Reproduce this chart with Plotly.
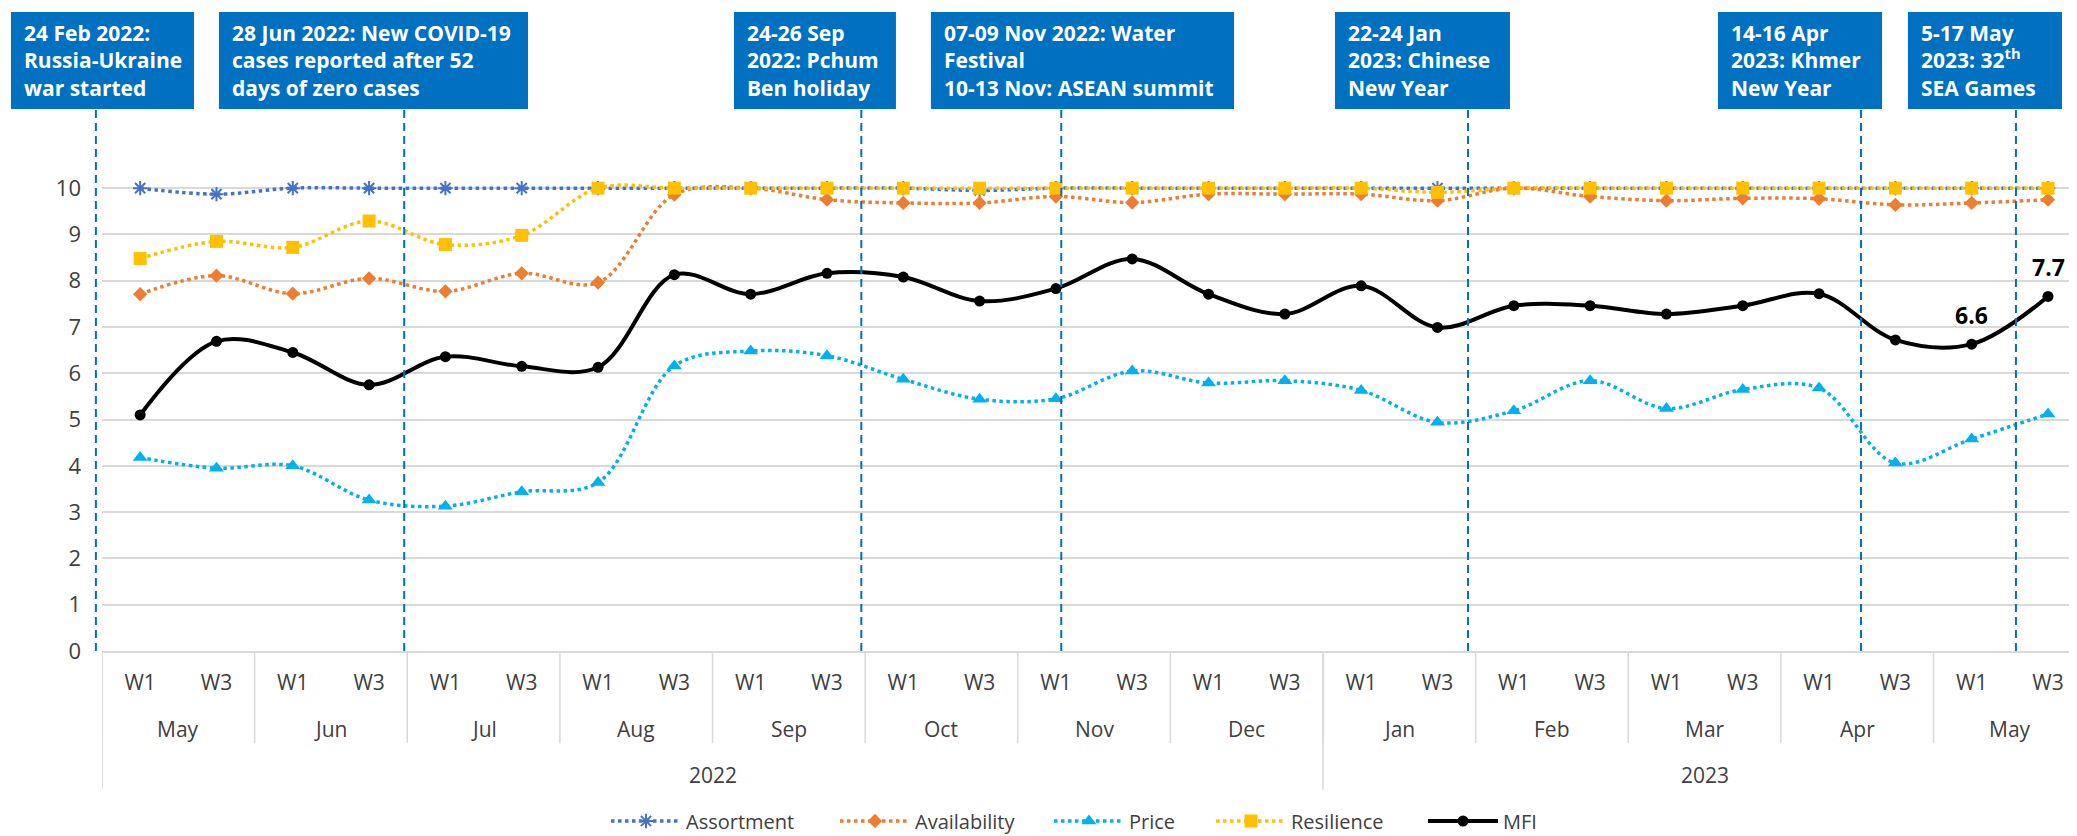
import plotly.graph_objects as go

# ---------------- data ----------------
weeks = ["W1", "W3"] * 13
months = ["May", "Jun", "Jul", "Aug", "Sep", "Oct", "Nov", "Dec",
          "Jan", "Feb", "Mar", "Apr", "May"]
years = ["2022", "2023"]
months_per_year = [8, 5]

assortment = [10, 9.87, 10, 10, 10, 10, 10, 10, 10, 10, 10, 9.95, 10, 10,
              10, 10, 10, 10, 10, 10, 10, 10, 10, 10, 10, 10]
availability = [7.71, 8.11, 7.72, 8.05, 7.77, 8.16, 7.96, 9.86, 10.0, 9.75,
                 9.68, 9.68, 9.82, 9.69, 9.87, 9.87, 9.87, 9.73, 10.0, 9.82,
                 9.73, 9.78, 9.77, 9.64, 9.68, 9.75]
price = [4.18, 3.95, 4.00, 3.26, 3.13, 3.44, 3.64, 6.16, 6.48, 6.38, 5.87,
         5.44, 5.45, 6.05, 5.79, 5.84, 5.63, 4.94, 5.19, 5.84, 5.24, 5.65,
         5.68, 4.06, 4.58, 5.12]
resilience = [8.48, 8.85, 8.72, 9.29, 8.78, 8.98, 10, 10, 10, 10, 10, 10, 10,
              10, 10, 10, 10, 9.91, 10, 10, 10, 10, 10, 10, 10, 10]
mfi = [5.10, 6.69, 6.45, 5.75, 6.36, 6.15, 6.13, 8.13, 7.71, 8.16, 8.08,
       7.56, 7.83, 8.47, 7.71, 7.28, 7.89, 6.99, 7.46, 7.46, 7.28, 7.46,
       7.72, 6.72, 6.63, 7.66]
mfi_labelled = [24, 25]

event_text = [
    "24 Feb 2022:<br>Russia-Ukraine<br>war started",
    "28 Jun 2022: New COVID-19<br>cases reported after 52<br>days of zero cases",
    "24-26 Sep<br>2022: Pchum<br>Ben holiday",
    "07-09 Nov 2022: Water<br>Festival<br>10-13 Nov: ASEAN summit",
    "22-24 Jan<br>2023: Chinese<br>New Year",
    "14-16 Apr<br>2023: Khmer<br>New Year",
    "5-17 May<br>2023: 32<sup>th</sup><br>SEA Games",
]
# event positions in category units
event_x = [-0.58, 3.46, 9.45, 12.07, 17.40, 22.55, 24.58]
# box extents in paper x
box_left = [-0.0461, 0.0592, 0.3200, 0.4197, 0.6243, 0.8182, 0.9144]
box_right = [0.0466, 0.2157, 0.4020, 0.5732, 0.7129, 0.9013, 0.9924]

# ---------------- figure ----------------
OFF = 8  # default page body margin
W, H = 2077 - OFF, 836 - OFF
ML, MR, MT = 102 - OFF, 0, 109 - OFF
MB = H - (651 - OFF)
XMIN, XMAX = -0.5, 25.38
YMAX = 11.71
FONT = "Open Sans"
TXT = "#404040"
GRID = "#D9D9D9"
BLUE = "#0070C0"

x = list(range(len(weeks)))
fig = go.Figure()

def add_series(name, y, color, symbol, size, dash, width, lw, mline=0):
    fig.add_trace(go.Scatter(
        x=x, y=y, name=name, mode="lines+markers", legendwidth=lw,
        line=dict(color=color, width=width, dash=dash, shape="spline", smoothing=1),
        marker=dict(symbol=symbol, size=size, color=color,
                    line=dict(color=color, width=mline)),
    ))

add_series("Assortment", assortment, "#4472C4", "asterisk-open", 12, "dot", 3.5, 144, 2)
add_series("Availability", availability, "#ED7D31", "diamond", 11, "dot", 3.5, 129)
add_series("Price", price, "#00B0F0", "triangle-up", 13, "dot", 3.5, 77)
add_series("Resilience", resilience, "#FFC000", "square", 13, "dot", 3.5, 127)
add_series("MFI", mfi, "#000000", "circle", 11, "solid", 4, 40)

shapes = []
annotations = []

def px_paper(v):
    return (v - XMIN) / (XMAX - XMIN)

# event dashed lines, boxes, texts
for i, t in enumerate(event_text):
    xp = px_paper(event_x[i])
    shapes.append(dict(type="line", xref="paper", yref="paper", x0=xp, x1=xp,
                       y0=0, y1=1, line=dict(color=BLUE, width=2, dash="8px,5px"),
                       layer="above"))
    shapes.append(dict(type="rect", xref="paper", yref="paper",
                       x0=box_left[i], x1=box_right[i], y0=1.0, y1=1.179,
                       fillcolor=BLUE, line=dict(width=0), layer="above"))
    annotations.append(dict(xref="paper", yref="paper", x=box_left[i] + 0.0056,
                            y=1.0895, xanchor="left", yanchor="middle",
                            text="<b>" + t + "</b>", showarrow=False, align="left",
                            font=dict(family=FONT, size=21, color="white")))

# category dividers
n_months = len(months)
for k in range(n_months + 1):
    xv = -0.5 + 2 * k
    shapes.append(dict(type="line", xref="x", yref="paper", x0=xv, x1=xv,
                       y0=0, y1=-0.170, line=dict(color=GRID, width=1.5)))
cum = 0
for cnt in [0] + months_per_year:
    cum += cnt
    xv = -0.5 + 2 * cum
    shapes.append(dict(type="line", xref="x", yref="paper", x0=xv, x1=xv,
                       y0=0, y1=-0.256, line=dict(color=GRID, width=1.5)))

# month labels
for k, m in enumerate(months):
    annotations.append(dict(xref="x", yref="paper", x=2 * k + 0.5, y=-0.144,
                            text=m, showarrow=False, yanchor="middle",
                            font=dict(family=FONT, size=21, color=TXT)))
# year labels
start = 0
for yr, cnt in zip(years, months_per_year):
    center = (2 * start + 2 * (start + cnt) - 1) / 2
    annotations.append(dict(xref="x", yref="paper", x=center, y=-0.229,
                            text=yr, showarrow=False, yanchor="middle",
                            font=dict(family=FONT, size=21, color=TXT)))
    start += cnt

# MFI data labels
for i in mfi_labelled:
    annotations.append(dict(xref="x", yref="y", x=i, y=mfi[i], yshift=29,
                            text="<b>%.1f</b>" % mfi[i], showarrow=False,
                            yanchor="middle",
                            font=dict(family=FONT, size=23, color="black")))

fig.update_layout(
    width=W, height=H, autosize=False,
    margin=dict(l=ML, r=MR, t=MT, b=MB, pad=0),
    paper_bgcolor="white", plot_bgcolor="white",
    font=dict(family=FONT, size=21, color=TXT),
    shapes=shapes, annotations=annotations,
    showlegend=True,
    legend=dict(orientation="h", xref="container", yref="container",
                x=(606 - OFF) / W, xanchor="left", y=1 - (821 - OFF) / H,
                yanchor="middle",
                font=dict(family=FONT, size=20, color=TXT),
                itemwidth=70, bgcolor="rgba(0,0,0,0)"),
    xaxis=dict(range=[XMIN, XMAX], tickmode="array", tickvals=x, ticktext=weeks,
               showgrid=False, zeroline=False, showline=True, linecolor=GRID,
               linewidth=1.5, ticks="", ticklabelstandoff=12,
               tickfont=dict(family=FONT, size=21, color=TXT)),
    yaxis=dict(range=[0, YMAX], tickmode="array", tickvals=list(range(11)),
               showgrid=True, gridcolor=GRID, gridwidth=1.5, zeroline=False,
               showline=False, ticks="", ticklabelstandoff=20,
               tickfont=dict(family=FONT, size=22, color=TXT)),
)

fig.write_html("out.html")
